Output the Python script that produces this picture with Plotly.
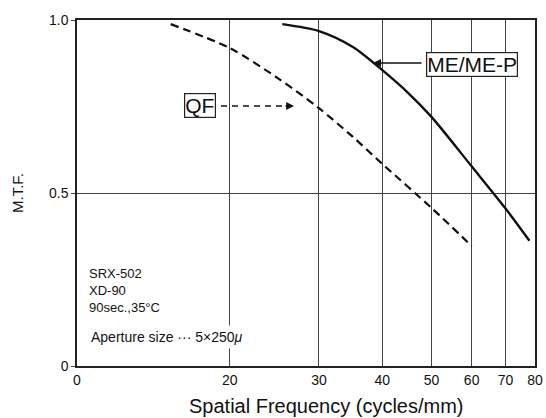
import numpy as np
import plotly.graph_objects as go

# MTF curves
qf_freq = [15.3, 20, 25, 30, 35, 40, 50, 60]
qf_mtf = [0.988, 0.919, 0.83, 0.745, 0.662, 0.584, 0.457, 0.347]

me_freq = [25.4, 30, 35, 40, 45, 50, 60, 70, 78]
me_mtf = [0.988, 0.968, 0.922, 0.855, 0.789, 0.72, 0.577, 0.455, 0.362]

x_tickvals = [10, 20, 30, 40, 50, 60, 70, 80]
x_ticktext = ["0", "20", "30", "40", "50", "60", "70", "80"]
y_tickvals = [0, 0.5, 1.0]
y_ticktext = ["0", "0.5", "1.0"]

FONT = "Liberation Sans, Arial, sans-serif"

fig = go.Figure()
fig.add_trace(go.Scatter(x=qf_freq, y=qf_mtf, mode="lines",
                         line=dict(color="#111", width=2.2, dash="8px,5px", shape="spline", smoothing=0.8),
                         showlegend=False, hoverinfo="skip"))
fig.add_trace(go.Scatter(x=me_freq, y=me_mtf, mode="lines",
                         line=dict(color="#111", width=2.4, shape="spline", smoothing=0.8),
                         showlegend=False, hoverinfo="skip"))

L, R, T, B = 77, 11, 20, 52
W, H = 546, 418
pw, ph = W - L - R, H - T - B

def px(x):
    return (x - L) / pw

def py(y):
    return (H - B - y) / ph

def note(x, y, text, **kw):
    d = dict(x=px(x), y=py(y), xref="paper", yref="paper", text=text, showarrow=False,
             xanchor="center", yanchor="middle")
    d.update(kw)
    return d

ann = []
# QF label + dashed arrow
ann.append(note(200, 105, "QF", font=dict(size=21, family=FONT, color="#111"),
                bordercolor="#222", borderwidth=1.2, borderpad=0, bgcolor="white"))
ann.append(dict(x=px(294), y=py(106), xref="paper", yref="paper", text="", showarrow=True,
                ax=-10, ay=0, arrowhead=2, arrowsize=1.2, arrowwidth=1.3, arrowcolor="#111"))
# ME/ME-P label + arrow
ann.append(note(472, 64.5, "ME/ME-P", font=dict(size=21, family=FONT, color="#111"),
                bordercolor="#222", borderwidth=1.2, borderpad=0, bgcolor="white"))
ann.append(dict(x=px(373), y=py(63), xref="paper", yref="paper", text="", showarrow=True,
                ax=50, ay=0, arrowhead=2, arrowsize=1.0, arrowwidth=1.6, arrowcolor="#111"))
# notes
ann.append(note(87, 290, "SRX-502<br>XD-90<br>90sec.,35°C", xanchor="left", align="left",
                font=dict(size=13, family=FONT, color="#111")))
ann.append(note(87, 337, "Aperture size ··· 5×250<i>μ</i>", xanchor="left", align="left",
                font=dict(size=14, family=FONT, color="#111"), bgcolor="white", borderpad=3))
# axis titles
ann.append(note(326, 406, "Spatial Frequency (cycles/mm)", font=dict(size=20, family=FONT, color="#111")))
ann.append(note(17, 193, "M.T.F.", textangle=-90, font=dict(size=15, family=FONT, color="#111")))

shapes = [dict(type="line", xref="paper", yref="paper", x0=px(221), x1=px(286), y0=py(106), y1=py(106),
               line=dict(color="#111", width=1.3, dash="6px,5px"))]

fig.update_layout(
    width=W, height=H, margin=dict(l=L, r=R, t=T, b=B, autoexpand=False),
    paper_bgcolor="white", plot_bgcolor="white",
    annotations=ann, shapes=shapes,
    font=dict(family=FONT, color="#111"),
    xaxis=dict(type="log", range=[1, np.log10(80)], tickvals=x_tickvals, ticktext=x_ticktext,
               showgrid=True, gridcolor="#444", gridwidth=1, showline=True, linecolor="#222",
               linewidth=1.5, mirror=True, ticks="", tickfont=dict(size=14), zeroline=False),
    yaxis=dict(range=[0, 1.0], tickvals=y_tickvals, ticktext=y_ticktext, showgrid=True,
               gridcolor="#444", gridwidth=1, showline=True, linecolor="#222", linewidth=1.5,
               mirror=True, ticks="outside", ticklen=4, tickcolor="#444", tickfont=dict(size=14),
               zeroline=False),
)
fig.write_html("out.html", config={"displayModeBar": False},
               post_script="document.body.style.margin='0px';document.body.style.overflow='hidden';")
